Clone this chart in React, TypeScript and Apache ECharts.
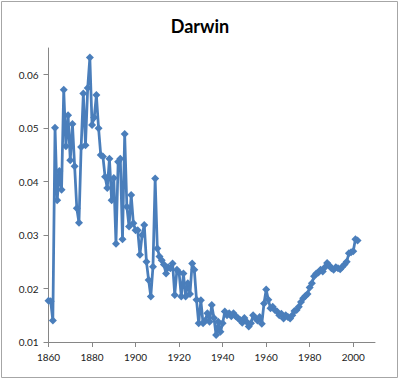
import React, { useEffect, useRef } from "react";
import * as echarts from "echarts";

const startYear = 1860;
const values: number[] = [
  // 1860s
  0.0177, 0.0176, 0.014, 0.0501, 0.0365, 0.042, 0.0385, 0.0572, 0.0466, 0.0524,
  // 1870s
  0.044, 0.0508, 0.0429, 0.035, 0.0323, 0.0465, 0.0565, 0.0468, 0.0575, 0.0632,
  // 1880s
  0.0506, 0.052, 0.0562, 0.05, 0.045, 0.0447, 0.0409, 0.0388, 0.0443, 0.0365,
  // 1890s
  0.0407, 0.0284, 0.0437, 0.0443, 0.0292, 0.0489, 0.0353, 0.0316, 0.0375, 0.0322,
  // 1900s
  0.0309, 0.0309, 0.0263, 0.03, 0.0319, 0.025, 0.0216, 0.0185, 0.0241, 0.0406,
  // 1910s
  0.0275, 0.026, 0.0253, 0.0245, 0.0228, 0.024, 0.0238, 0.0247, 0.0188, 0.0235,
  // 1920s
  0.023, 0.0185, 0.0228, 0.0185, 0.021, 0.019, 0.0247, 0.0235, 0.0179, 0.0135,
  // 1930s
  0.0178, 0.0135, 0.014, 0.0154, 0.0138, 0.0169, 0.0145, 0.0113, 0.0138, 0.0119,
  // 1940s
  0.0135, 0.0157, 0.015, 0.0154, 0.0148, 0.0154, 0.0148, 0.0145, 0.0141, 0.0136,
  // 1950s
  0.0145, 0.0138, 0.0129, 0.0135, 0.015, 0.0145, 0.014, 0.0147, 0.0134, 0.0172,
  // 1960s
  0.0198, 0.0179, 0.0163, 0.0166, 0.016, 0.0157, 0.015, 0.0153, 0.0144, 0.015,
  // 1970s
  0.0147, 0.0144, 0.015, 0.0158, 0.016, 0.0166, 0.0175, 0.0182, 0.0186, 0.019,
  // 1980s
  0.0202, 0.021, 0.0223, 0.0228, 0.023, 0.0235, 0.0232, 0.024, 0.0248, 0.0243,
  // 1990s
  0.0238, 0.0235, 0.024, 0.0238, 0.0236, 0.0241, 0.0245, 0.025, 0.0266, 0.0268,
  // 2000s
  0.027, 0.0292, 0.029,
];
const years: number[] = values.map((_, i) => startYear + i);
const xTicks: number[] = [1860, 1880, 1900, 1920, 1940, 1960, 1980, 2000];
const yTicks: number[] = [0.01, 0.02, 0.03, 0.04, 0.05, 0.06];

export default function App() {
  const ref = useRef<HTMLDivElement>(null);
  useEffect(() => {
    document.body.style.margin = "0";
    const chart = echarts.init(ref.current!, undefined, { renderer: "svg" });
    const axisColor = "#868686";
    chart.setOption({
      animation: false,
      backgroundColor: "#ffffff",
      title: {
        text: "Darwin",
        left: "center",
        top: 12,
        textStyle: { fontFamily: "Lato", fontSize: 18, fontWeight: "bold", color: "#000" },
      },
      graphic: [
        {
          type: "rect",
          shape: { x: 1.5, y: 1.5, width: 396, height: 376 },
          style: { fill: "none", stroke: "#a6a6a6", lineWidth: 1 },
          silent: true,
        },
      ],
      grid: { left: 48.5, top: 48, right: 25, bottom: 38 },
      xAxis: {
        type: "value",
        min: 1860,
        max: 2010,
        interval: 20,
        splitLine: { show: false },
        axisLine: { show: true, lineStyle: { color: axisColor, width: 1 } },
        axisTick: { show: true, length: 5, customValues: xTicks, lineStyle: { color: axisColor } },
        axisLabel: {
          customValues: xTicks,
          fontFamily: "Lato",
          fontSize: 10,
          color: "#222",
          margin: 10,
          formatter: (v: number) => String(v),
        },
      },
      yAxis: {
        type: "value",
        min: 0.01,
        max: 0.065,
        interval: 0.01,
        splitLine: { show: false },
        axisLine: { show: true, lineStyle: { color: axisColor, width: 1 } },
        axisTick: { show: true, length: 5, customValues: yTicks, lineStyle: { color: axisColor } },
        axisLabel: {
          customValues: yTicks,
          fontFamily: "Lato",
          fontSize: 10,
          color: "#222",
          margin: 10,
          formatter: (v: number) => v.toFixed(2),
        },
      },
      series: [
        {
          type: "line",
          data: years.map((y, i) => [y, values[i]]),
          symbol: "diamond",
          symbolSize: 8,
          lineStyle: { color: "#4a7ebb", width: 2.75 },
          itemStyle: { color: "#4a7ebb" },
        },
      ],
    });
    return () => chart.dispose();
  }, []);
  return <div ref={ref} style={{ width: 400, height: 380 }} />;
}
